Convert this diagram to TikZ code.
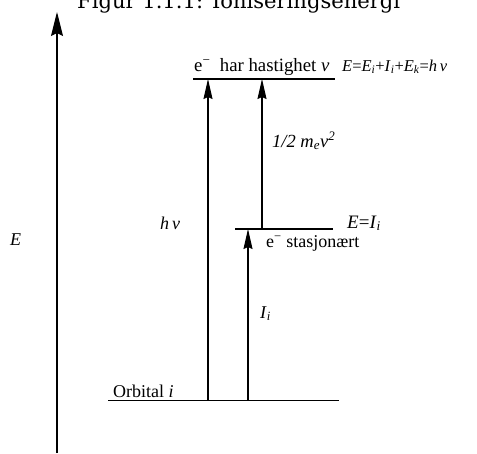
\documentclass[tikz,border=0pt]{standalone}
\usepackage{fontspec}
\setmainfont{Liberation Serif}
\newfontfamily\titlefont{DejaVu Serif}
\usetikzlibrary{arrows.meta}
\newcommand\mysub[1]{\textsubscript{\itshape #1}}
\begin{document}
\begin{tikzpicture}[x=1pt,y=-1pt,
  level/.style={line width=1.2pt},
  upar/.style={line width=1.1pt,-{Stealth[length=20pt,width=9pt,inset=2pt]}},
  axisar/.style={line width=1.1pt,-{Stealth[length=24pt,width=12pt,inset=3pt]}},
  lbl/.style={anchor=base west,inner sep=0pt,font=\fontsize{18}{20}\selectfont}]
\useasboundingbox (0,0) rectangle (477,453);
\clip (0,0) rectangle (477,453);
% title (cut off at top)
\node[anchor=base west,inner sep=0pt] (title) at (77,8)
  {\resizebox{323pt}{!}{\titlefont Figur 1.1.1: Ioniseringsenergi}};
% coordinates
\coordinate (axb) at (57,453);
\coordinate (axt) at (57,12);
\coordinate (tl) at (193,79);
\coordinate (tr) at (335,79);
\coordinate (ml) at (235,229);
\coordinate (mr) at (333,229);
\coordinate (bl) at (108,400.5);
\coordinate (br) at (339,400.5);
\coordinate (hb) at (208,400.5);
\coordinate (ht) at (208,79);
\coordinate (kb) at (262,228);
\coordinate (kt) at (262,79);
\coordinate (ib) at (248,400.5);
\coordinate (it) at (248,229);
% lines
\draw[axisar] (axb) -- (axt);
\draw[level] (tl) -- (tr);
\draw[level] (ml) -- (mr);
\draw[level] (bl) -- (br);
\draw[upar] (hb) -- (ht);
\draw[upar] (kb) -- (kt);
\draw[upar] (ib) -- (it);
% labels
\node[lbl] (eaxis) at (10,245) {\textit{E}};
\node[lbl,font=\fontsize{18.8}{20}\selectfont] (top) at (194,71) {e\textsuperscript{−}\ \ har hastighet \textit{v}};
\node[lbl,font=\fontsize{16.5}{18}\selectfont] (etop) at (342,71)
  {\textit{E}=\textit{E}\mysub{i}+\textit{I}\mysub{i}+\textit{E}\mysub{k}=\textit{h}\,\textit{ν}};
\node[lbl,font=\fontsize{19}{20}\selectfont] (emid) at (347,228) {\textit{E}=\textit{I}\mysub{i}};
\node[lbl] (stas) at (266,247) {e\textsuperscript{−} stasjonært};
\node[lbl] (hnu) at (160,229) {\textit{h}\,\textit{ν}};
\node[lbl,font=\fontsize{18.5}{20}\selectfont] (kin) at (272,147) {\textit{1/2 m}\mysub{e}\textit{v}\textsuperscript{\itshape 2}};
\node[lbl] (ii) at (260,318) {\textit{I}\mysub{i}};
\node[lbl] (orb) at (113,397) {Orbital \textit{i}};
\end{tikzpicture}
\end{document}
